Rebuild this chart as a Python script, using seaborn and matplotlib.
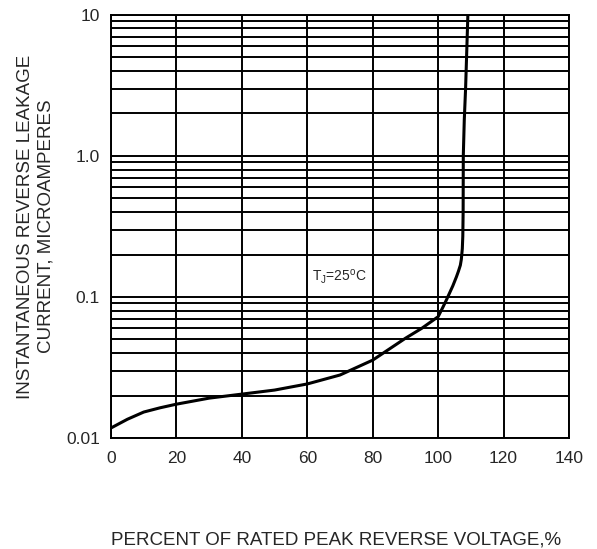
import numpy as np
import pandas as pd
import matplotlib
matplotlib.use("Agg")
import matplotlib.pyplot as plt
import seaborn as sns
from matplotlib.ticker import FixedLocator, LogLocator, NullFormatter

# --- 数据 ---
voltage_pct = [0, 5, 10, 15, 20, 30, 40, 50, 60, 70, 80, 90, 95, 100, 101.5,
               102.6, 103.6, 104.5, 105.6, 106.2, 106.8, 107.1, 107.4, 107.55,
               107.65, 107.7, 108.0, 108.4, 109.1]
leak_current = [0.0118, 0.0136, 0.0153, 0.0164, 0.0174, 0.0192, 0.0205, 0.0219,
                0.0242, 0.028, 0.0357, 0.051, 0.06, 0.0725, 0.085, 0.096, 0.108,
                0.12, 0.139, 0.152, 0.168, 0.185, 0.22, 0.27, 0.4, 1.0, 1.8,
                3.0, 10.0]
x_ticks = [0, 20, 40, 60, 80, 100, 120, 140]
y_ticks = [0.01, 0.1, 1.0, 10]
y_tick_labels = ["0.01", "0.1", "1.0", "10"]

df = pd.DataFrame({"pct": voltage_pct, "ir": leak_current})

sns.set_style("white")
plt.rcParams["font.family"] = ["Liberation Sans", "DejaVu Sans"]

fig = plt.figure(figsize=(5.97, 5.49), dpi=100)
ax = fig.add_axes([0.186, 0.202, 0.767, 0.771])

ax.set_yscale("log")
ax.set_xlim(0, 140)
ax.set_ylim(0.01, 10)

# 网格
ax.xaxis.set_major_locator(FixedLocator(x_ticks))
ax.yaxis.set_major_locator(FixedLocator(y_ticks))
ax.yaxis.set_minor_locator(LogLocator(base=10, subs=np.arange(2, 10)))
ax.yaxis.set_minor_formatter(NullFormatter())
ax.grid(True, which="major", color="black", linewidth=1.4)
ax.grid(True, which="minor", axis="y", color="black", linewidth=1.4)
ax.set_axisbelow(True)

sns.lineplot(data=df, x="pct", y="ir", ax=ax, color="black", linewidth=2.2,
             estimator=None, sort=False)

ax.set_xticks(x_ticks)
ax.set_xticklabels([str(t) for t in x_ticks], fontsize=12.5)
ax.set_yticks(y_ticks)
ax.set_yticklabels(y_tick_labels, fontsize=12.5)
ax.tick_params(axis="y", which="both", length=0, pad=8)
ax.tick_params(axis="x", which="both", length=0, pad=9)

for s in ax.spines.values():
    s.set_color("black")
    s.set_linewidth(1.4)

ax.set_xlabel("")
ax.set_ylabel("INSTANTANEOUS REVERSE LEAKAGE\nCURRENT, MICROAMPERES",
              fontsize=13.5, labelpad=8, linespacing=1.3)

ax.text(61.5, 0.138, r"T$_\mathregular{J}$=25$^\mathregular{o}$C", fontsize=10,
        va="center", ha="left")

fig.text(0.563, 0.0164, "PERCENT OF RATED PEAK REVERSE VOLTAGE,%",
         fontsize=13.5, ha="center", va="center")

fig.savefig("out.png", dpi=100)
